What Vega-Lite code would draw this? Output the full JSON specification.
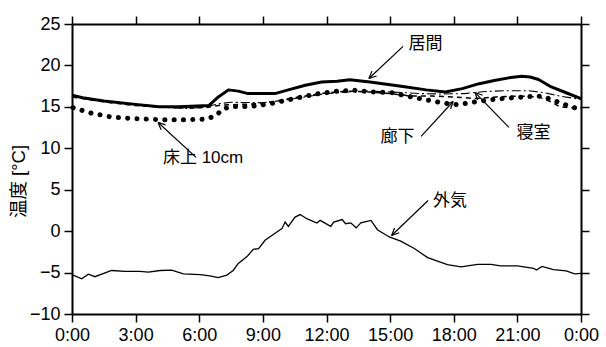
{
  "$schema": "https://vega.github.io/schema/vega-lite/v6.json",
  "width": 509,
  "height": 290,
  "autosize": {"type": "none"},
  "padding": {"left": 72, "top": 24, "right": 25, "bottom": 33},
  "background": "white",
  "config": {
    "view": {"stroke": null},
    "font": "Liberation Sans, Noto Sans CJK JP",
    "axis": {
      "labelFont": "Liberation Sans",
      "labelFontSize": 18,
      "labelColor": "#000",
      "domainColor": "#000",
      "domainWidth": 2,
      "tickColor": "#000",
      "tickWidth": 1.5,
      "tickSize": 8,
      "grid": false,
      "labelPadding": 4
    }
  },
  "datasets": {
    "series": [
      {"s": "居間", "t": 0, "v": 16.4}, {"s": "居間", "t": 0.5, "v": 16.1}, {"s": "居間", "t": 1.5, "v": 15.7}, {"s": "居間", "t": 3.0, "v": 15.3}, {"s": "居間", "t": 4.1, "v": 15.0}, {"s": "居間", "t": 5.0, "v": 15.0}, {"s": "居間", "t": 5.9, "v": 15.1}, {"s": "居間", "t": 6.45, "v": 15.15}, {"s": "居間", "t": 6.9, "v": 16.2}, {"s": "居間", "t": 7.38, "v": 17.05}, {"s": "居間", "t": 7.84, "v": 16.9}, {"s": "居間", "t": 8.3, "v": 16.6}, {"s": "居間", "t": 8.95, "v": 16.6}, {"s": "居間", "t": 9.57, "v": 16.6}, {"s": "居間", "t": 10.2, "v": 17.05}, {"s": "居間", "t": 11.0, "v": 17.6}, {"s": "居間", "t": 11.77, "v": 18.0}, {"s": "居間", "t": 12.5, "v": 18.1}, {"s": "居間", "t": 13.1, "v": 18.26}, {"s": "居間", "t": 14.05, "v": 18.0}, {"s": "居間", "t": 15.6, "v": 17.45}, {"s": "居間", "t": 16.7, "v": 17.05}, {"s": "居間", "t": 17.6, "v": 16.8}, {"s": "居間", "t": 18.4, "v": 17.2}, {"s": "居間", "t": 19.2, "v": 17.8}, {"s": "居間", "t": 19.97, "v": 18.2}, {"s": "居間", "t": 20.6, "v": 18.5}, {"s": "居間", "t": 21.2, "v": 18.7}, {"s": "居間", "t": 21.6, "v": 18.6}, {"s": "居間", "t": 22.0, "v": 18.3}, {"s": "居間", "t": 22.6, "v": 17.4}, {"s": "居間", "t": 23.3, "v": 16.7}, {"s": "居間", "t": 24, "v": 16.0},
      {"s": "寝室", "t": 0, "v": 16.3}, {"s": "寝室", "t": 1.5, "v": 15.7}, {"s": "寝室", "t": 3.0, "v": 15.2}, {"s": "寝室", "t": 4.5, "v": 14.9}, {"s": "寝室", "t": 5.5, "v": 14.8}, {"s": "寝室", "t": 6.3, "v": 15.0}, {"s": "寝室", "t": 7.0, "v": 15.4}, {"s": "寝室", "t": 7.5, "v": 15.55}, {"s": "寝室", "t": 9.0, "v": 15.5}, {"s": "寝室", "t": 10.0, "v": 15.8}, {"s": "寝室", "t": 11.0, "v": 16.2}, {"s": "寝室", "t": 12.0, "v": 16.6}, {"s": "寝室", "t": 13.0, "v": 16.8}, {"s": "寝室", "t": 14.0, "v": 16.9}, {"s": "寝室", "t": 15.0, "v": 16.8}, {"s": "寝室", "t": 16.5, "v": 16.6}, {"s": "寝室", "t": 17.5, "v": 16.55}, {"s": "寝室", "t": 18.5, "v": 16.6}, {"s": "寝室", "t": 19.5, "v": 16.85}, {"s": "寝室", "t": 20.5, "v": 16.95}, {"s": "寝室", "t": 21.5, "v": 16.95}, {"s": "寝室", "t": 22.3, "v": 16.7}, {"s": "寝室", "t": 23.0, "v": 16.3}, {"s": "寝室", "t": 24, "v": 15.9},
      {"s": "廊下", "t": 0, "v": 16.2}, {"s": "廊下", "t": 1.5, "v": 15.6}, {"s": "廊下", "t": 3.0, "v": 15.15}, {"s": "廊下", "t": 5.0, "v": 14.9}, {"s": "廊下", "t": 6.3, "v": 14.9}, {"s": "廊下", "t": 7.0, "v": 15.2}, {"s": "廊下", "t": 8.0, "v": 15.3}, {"s": "廊下", "t": 9.0, "v": 15.4}, {"s": "廊下", "t": 10.0, "v": 15.9}, {"s": "廊下", "t": 11.0, "v": 16.3}, {"s": "廊下", "t": 12.0, "v": 16.7}, {"s": "廊下", "t": 13.0, "v": 16.9}, {"s": "廊下", "t": 14.0, "v": 16.8}, {"s": "廊下", "t": 15.0, "v": 16.6}, {"s": "廊下", "t": 16.0, "v": 16.3}, {"s": "廊下", "t": 17.0, "v": 16.3}, {"s": "廊下", "t": 18.0, "v": 16.2}, {"s": "廊下", "t": 19.0, "v": 16.0}, {"s": "廊下", "t": 20.0, "v": 16.2}, {"s": "廊下", "t": 21.0, "v": 16.3}, {"s": "廊下", "t": 22.0, "v": 16.2}, {"s": "廊下", "t": 22.6, "v": 15.6}, {"s": "廊下", "t": 23.0, "v": 15.0}, {"s": "廊下", "t": 23.5, "v": 14.9}, {"s": "廊下", "t": 24, "v": 14.9},
      {"s": "床上", "t": 0.05, "v": 14.9}, {"s": "床上", "t": 0.9, "v": 14.25}, {"s": "床上", "t": 1.9, "v": 13.75}, {"s": "床上", "t": 3.2, "v": 13.55}, {"s": "床上", "t": 4.2, "v": 13.45}, {"s": "床上", "t": 5.4, "v": 13.45}, {"s": "床上", "t": 6.3, "v": 13.5}, {"s": "床上", "t": 6.8, "v": 13.95}, {"s": "床上", "t": 7.1, "v": 14.75}, {"s": "床上", "t": 7.6, "v": 15.05}, {"s": "床上", "t": 8.4, "v": 15.05}, {"s": "床上", "t": 9.3, "v": 15.35}, {"s": "床上", "t": 10.3, "v": 15.9}, {"s": "床上", "t": 11.4, "v": 16.5}, {"s": "床上", "t": 12.5, "v": 16.9}, {"s": "床上", "t": 13.3, "v": 17.0}, {"s": "床上", "t": 14.2, "v": 16.8}, {"s": "床上", "t": 15.1, "v": 16.7}, {"s": "床上", "t": 16.0, "v": 16.2}, {"s": "床上", "t": 16.9, "v": 15.75}, {"s": "床上", "t": 17.5, "v": 15.45}, {"s": "床上", "t": 18.2, "v": 15.25}, {"s": "床上", "t": 18.9, "v": 15.55}, {"s": "床上", "t": 19.55, "v": 15.8}, {"s": "床上", "t": 20.3, "v": 16.0}, {"s": "床上", "t": 21.3, "v": 16.2}, {"s": "床上", "t": 22.1, "v": 16.3}, {"s": "床上", "t": 22.6, "v": 15.9}, {"s": "床上", "t": 23.1, "v": 15.4}, {"s": "床上", "t": 23.55, "v": 15.0}, {"s": "床上", "t": 23.95, "v": 14.7},
      {"s": "外気", "t": 0, "v": -5.25}, {"s": "外気", "t": 0.46, "v": -5.75}, {"s": "外気", "t": 0.77, "v": -5.2}, {"s": "外気", "t": 1.08, "v": -5.5}, {"s": "外気", "t": 1.87, "v": -4.75}, {"s": "外気", "t": 2.5, "v": -4.85}, {"s": "外気", "t": 3.2, "v": -4.86}, {"s": "外気", "t": 3.6, "v": -4.95}, {"s": "外気", "t": 4.15, "v": -4.75}, {"s": "外気", "t": 4.7, "v": -4.7}, {"s": "外気", "t": 5.25, "v": -5.15}, {"s": "外気", "t": 6.04, "v": -5.25}, {"s": "外気", "t": 6.5, "v": -5.4}, {"s": "外気", "t": 6.9, "v": -5.6}, {"s": "外気", "t": 7.3, "v": -5.3}, {"s": "外気", "t": 7.6, "v": -4.75}, {"s": "外気", "t": 7.84, "v": -3.9}, {"s": "外気", "t": 8.24, "v": -3.1}, {"s": "外気", "t": 8.55, "v": -2.2}, {"s": "外気", "t": 8.8, "v": -2.1}, {"s": "外気", "t": 9.1, "v": -1.1}, {"s": "外気", "t": 9.66, "v": -0.1}, {"s": "外気", "t": 9.9, "v": 0.3}, {"s": "外気", "t": 10.05, "v": 1.1}, {"s": "外気", "t": 10.2, "v": 0.57}, {"s": "外気", "t": 10.52, "v": 1.7}, {"s": "外気", "t": 10.76, "v": 2.0}, {"s": "外気", "t": 11.07, "v": 1.5}, {"s": "外気", "t": 11.55, "v": 0.97}, {"s": "外気", "t": 11.7, "v": 1.3}, {"s": "外気", "t": 12.2, "v": 0.57}, {"s": "外気", "t": 12.34, "v": 1.1}, {"s": "外気", "t": 12.74, "v": 1.4}, {"s": "外気", "t": 12.9, "v": 0.9}, {"s": "外気", "t": 13.14, "v": 1.0}, {"s": "外気", "t": 13.4, "v": 0.4}, {"s": "外気", "t": 13.62, "v": 1.0}, {"s": "外気", "t": 14.1, "v": 1.3}, {"s": "外気", "t": 14.4, "v": 0.17}, {"s": "外気", "t": 14.96, "v": -0.7}, {"s": "外気", "t": 15.5, "v": -1.2}, {"s": "外気", "t": 16.14, "v": -2.1}, {"s": "外気", "t": 16.77, "v": -3.2}, {"s": "外気", "t": 17.7, "v": -4.05}, {"s": "外気", "t": 18.34, "v": -4.3}, {"s": "外気", "t": 19.13, "v": -4.0}, {"s": "外気", "t": 19.76, "v": -4.0}, {"s": "外気", "t": 20.2, "v": -4.2}, {"s": "外気", "t": 21.0, "v": -4.2}, {"s": "外気", "t": 21.77, "v": -4.5}, {"s": "外気", "t": 21.9, "v": -4.7}, {"s": "外気", "t": 22.16, "v": -4.25}, {"s": "外気", "t": 22.7, "v": -4.65}, {"s": "外気", "t": 23.3, "v": -4.8}, {"s": "外気", "t": 23.7, "v": -5.15}, {"s": "外気", "t": 24, "v": -5.1}
    ],
    "labels": [
      {"label": "居間", "t": 16.67, "v": 22.64, "a": "center"},
      {"label": "廊下", "t": 15.35, "v": 11.34, "a": "center"},
      {"label": "寝室", "t": 21.76, "v": 11.79, "a": "center"},
      {"label": "床上 10cm", "t": 6.18, "v": 8.77, "a": "left"},
      {"label": "外気", "t": 17.82, "v": 3.58, "a": "center"}
    ],
    "arrows": [
      {"t": 15.61, "v": 22.3, "t2": 14.0, "v2": 18.42},
      {"t": 14.0, "v": 18.42, "t2": 14.36, "v2": 18.72},
      {"t": 14.0, "v": 18.42, "t2": 14.14, "v2": 19.31},
      {"t": 16.46, "v": 11.43, "t2": 17.97, "v2": 15.65},
      {"t": 17.97, "v": 15.65, "t2": 17.62, "v2": 15.28},
      {"t": 17.97, "v": 15.65, "t2": 17.85, "v2": 14.74},
      {"t": 20.6, "v": 12.52, "t2": 19.0, "v2": 16.74},
      {"t": 19.0, "v": 16.74, "t2": 19.13, "v2": 15.83},
      {"t": 19.0, "v": 16.74, "t2": 19.36, "v2": 16.4},
      {"t": 5.85, "v": 8.9, "t2": 4.06, "v2": 13.12},
      {"t": 4.06, "v": 13.12, "t2": 4.2, "v2": 12.23},
      {"t": 4.06, "v": 13.12, "t2": 4.41, "v2": 12.83},
      {"t": 16.79, "v": 3.7, "t2": 15.07, "v2": -0.52},
      {"t": 15.07, "v": -0.52, "t2": 15.43, "v2": -0.2},
      {"t": 15.07, "v": -0.52, "t2": 15.21, "v2": 0.39}
    ]
  },
  "resolve": {"axis": {"x": "independent", "y": "independent"}},
  "layer": [
    {
      "data": {"name": "series"},
      "transform": [{"filter": "datum.s === '居間'"}],
      "mark": {"type": "line", "color": "#000", "strokeWidth": 3, "strokeJoin": "round"},
      "encoding": {
        "x": {"field": "t", "type": "quantitative", "scale": {"domain": [0, 24], "nice": false, "zero": false},
          "axis": {"orient": "bottom", "values": [0, 3, 6, 9, 12, 15, 18, 21, 24], "labelExpr": "(datum.value % 24) + ':00'", "title": null, "labelFlush": false}},
        "y": {"field": "v", "type": "quantitative", "scale": {"domain": [-10, 25], "nice": false, "zero": false},
          "axis": {"orient": "left", "values": [-10, -5, 0, 5, 10, 15, 20, 25], "title": "温度 [°C]", "titleFont": "Liberation Sans, Noto Sans CJK JP", "titleFontSize": 18.5, "titleFontWeight": "normal", "titleColor": "#000", "titleAngle": -90, "titleX": -54, "titleY": 157, "titleBaseline": "middle", "titleAlign": "center", "labelFlush": false}}
      }
    },
    {
      "data": {"name": "series"},
      "transform": [{"filter": "datum.s === '外気'"}],
      "mark": {"type": "line", "color": "#000", "strokeWidth": 1.3},
      "encoding": {
        "x": {"field": "t", "type": "quantitative", "axis": {"orient": "top", "values": [0, 3, 6, 9, 12, 15, 18, 21, 24], "labels": false, "title": null}},
        "y": {"field": "v", "type": "quantitative", "axis": {"orient": "right", "values": [-10, -5, 0, 5, 10, 15, 20, 25], "labels": false, "title": null}}
      }
    },
    {
      "data": {"name": "series"},
      "transform": [{"filter": "datum.s === '寝室'"}],
      "mark": {"type": "line", "color": "#000", "strokeWidth": 1.1, "strokeDash": [9, 3, 2, 3]},
      "encoding": {
        "x": {"field": "t", "type": "quantitative", "axis": null},
        "y": {"field": "v", "type": "quantitative", "axis": null}
      }
    },
    {
      "data": {"name": "series"},
      "transform": [{"filter": "datum.s === '廊下'"}],
      "mark": {"type": "line", "color": "#000", "strokeWidth": 1.5, "strokeDash": [5, 4]},
      "encoding": {
        "x": {"field": "t", "type": "quantitative", "axis": null},
        "y": {"field": "v", "type": "quantitative", "axis": null}
      }
    },
    {
      "data": {"name": "series"},
      "transform": [{"filter": "datum.s === '床上'"}],
      "mark": {"type": "line", "color": "#000", "strokeWidth": 5, "strokeCap": "round", "strokeDash": [0.1, 9.2]},
      "encoding": {
        "x": {"field": "t", "type": "quantitative", "axis": null},
        "y": {"field": "v", "type": "quantitative", "axis": null}
      }
    },
    {
      "data": {"name": "arrows"},
      "mark": {"type": "rule", "color": "#000", "strokeWidth": 1.2},
      "encoding": {
        "x": {"field": "t", "type": "quantitative", "axis": null},
        "y": {"field": "v", "type": "quantitative", "axis": null},
        "x2": {"field": "t2"},
        "y2": {"field": "v2"}
      }
    },
    {
      "data": {"name": "labels"},
      "mark": {"type": "text", "font": "Liberation Sans, Noto Sans CJK JP", "fontSize": 17, "color": "#000", "baseline": "middle"},
      "encoding": {
        "x": {"field": "t", "type": "quantitative", "axis": null},
        "y": {"field": "v", "type": "quantitative", "axis": null},
        "text": {"field": "label"},
        "align": {"field": "a", "type": "nominal", "scale": null}
      }
    }
  ]
}
